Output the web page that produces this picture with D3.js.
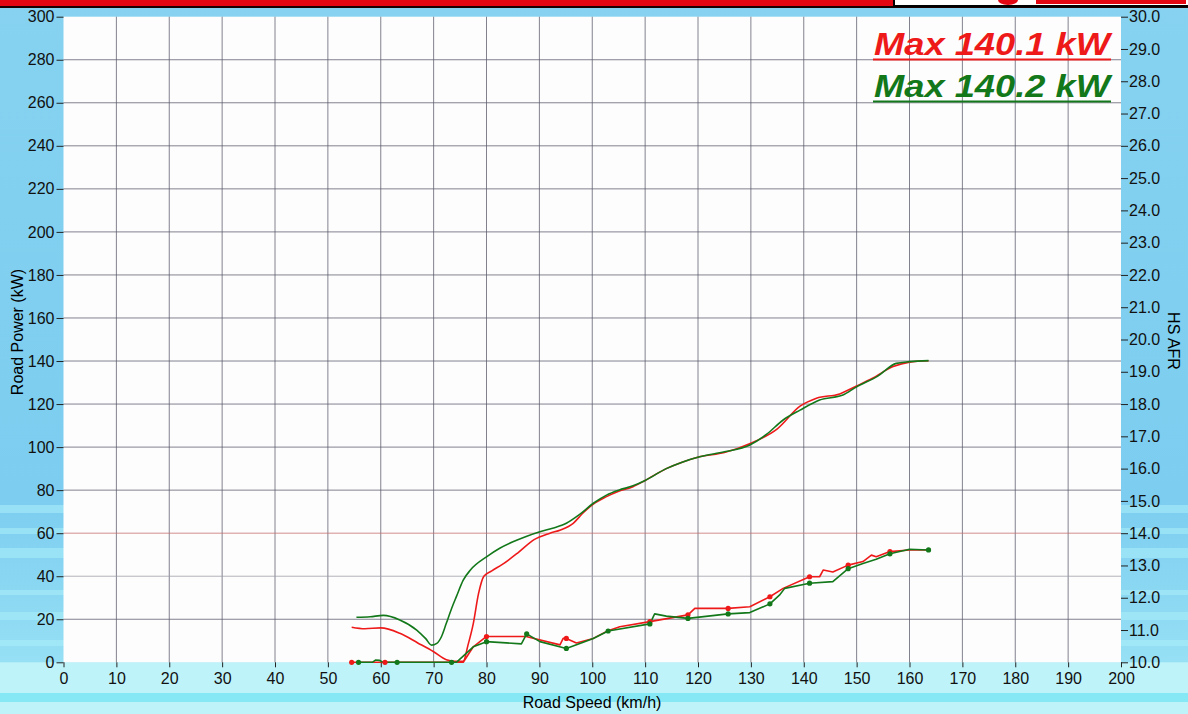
<!DOCTYPE html>
<html>
<head>
<meta charset="utf-8">
<script src="https://cdn.jsdelivr.net/npm/d3@7"></script>
<style>
  body { margin: 0; background: #82d0f0; }
  svg { display: block; font-family: "Liberation Sans", Arial, sans-serif; }
  .tick text { font-size: 16px; fill: #111; }
  .tick line { stroke: #222; }
</style>
</head>
<body>
<svg width="1188" height="714"></svg>
<script>
// road power (kW) vs road speed (km/h)
var redPower = [[54.5,16.3],[57,15.6],[60,16.0],[63.6,13.5],[67,9],[70,4.9],[72.4,1.2],[74,0.5],[75.6,0.5],
  [76.5,8],[77.5,18],[78.5,32],[79.5,40],[81,42.5],[83,45.5],[86,51],[89,57],[92,60],[94,61.5],[96.4,64.6],
  [98.3,69.5],[100.2,73.5],[102.7,77],[105,79.5],[107.7,81.6],[110,84.5],[114,90],[117,93],[120.3,95.5],
  [125,97.5],[130,101.8],[135,108.5],[139.3,119],[142.4,122.7],[146.8,124.7],[150,128.4],[153,132],
  [156.9,137.4],[160,139.5],[163.6,140.1]];
var greenPower = [[55.4,20.9],[58,21.2],[60.5,21.8],[63.6,19.7],[66.8,15],[68.5,11],[69.6,8],[70.6,8.8],
  [71.5,12],[72.4,18.1],[73.4,25],[74.3,30.5],[75.6,38.2],[77,43],[80,49],[82.5,53],[85,56],[87.5,58.5],
  [90.1,60.7],[92.5,62.3],[95.1,64.6],[97.5,68.5],[100.2,73.9],[102.7,77.7],[105,80],[107.7,82],[110,84.5],
  [114,90],[117,93],[120.3,95.5],[125,97.8],[129.8,101],[133,106],[136.1,112.6],[139.3,117.2],[143,121.9],
  [147.4,124.2],[150,128],[154,133],[157.5,138.9],[160,139.7],[163.6,140.2]];

// HS AFR vs road speed
var redAfr = [[54.5,10],[60.8,10],[75.6,10],[77.5,10.48],[80,10.8],[87.5,10.8],[93.9,10.54],[94.5,10.74],
  [95.1,10.74],[97,10.6],[100.2,10.74],[103,10.98],[105.2,11.1],[110.9,11.26],[118.1,11.47],[119.4,11.67],
  [125.7,11.67],[129.8,11.72],[133.6,12.03],[136.1,12.29],[141.1,12.65],[143,12.65],[143.7,12.86],
  [145.5,12.8],[148.4,13.01],[151.2,13.12],[152.8,13.32],[153.7,13.27],[156.3,13.43],[160,13.48],[163.6,13.48]];
var greenAfr = [[55.4,10],[58.4,10],[59.0,10.07],[59.8,10.06],[60.4,10],[73.4,10],[74.3,10],[77.5,10.48],
  [80,10.64],[86.6,10.57],[87.6,10.88],[90.1,10.64],[95.1,10.43],[100.2,10.74],[103,10.97],[110.9,11.19],
  [111.8,11.5],[114,11.43],[118.1,11.36],[125.7,11.5],[129.8,11.54],[133.6,11.81],[135.4,12.08],[136.4,12.29],
  [141.1,12.45],[145.5,12.5],[148.4,12.9],[151.2,13.06],[153.7,13.19],[156.3,13.36],[160,13.5],[163.6,13.48]];

// sample markers on the AFR traces
var redDots = [[54.5,10],[60.8,10],[80,10.8],[95.1,10.74],[110.9,11.26],[118.1,11.47],[125.7,11.67],
  [133.6,12.03],[141.1,12.65],[148.4,13.01],[156.3,13.43]];
var greenDots = [[55.8,10],[63.1,10],[73.4,10],[80,10.64],[87.6,10.88],[95.1,10.43],[103,10.97],
  [110.9,11.19],[118.1,11.36],[125.7,11.5],[133.6,11.81],[141.1,12.45],[148.4,12.9],[156.3,13.36],[163.6,13.48]];

var speedTicks = d3.range(0, 201, 10);
var powerTicks = d3.range(0, 301, 20);
var afrTicks = d3.range(10, 30.01, 1);
var legendLabels = ["Max 140.1 kW", "Max 140.2 kW"];

var RED = "#ee1a1a", GREEN = "#13781a";

var svg = d3.select("svg"),
    w = 1188, h = 714,
    plot = {left: 63.5, right: 1121, top: 16.7, bottom: 662.3};

var x = d3.scaleLinear().domain([0, 200]).range([plot.left, plot.right]);
var yP = d3.scaleLinear().domain([0, 300]).range([plot.bottom, plot.top]);
var yA = d3.scaleLinear().domain([10, 30]).range([plot.bottom, plot.top]);

// background bands (scanned printout look)
var defs = svg.append("defs");
var grad = defs.append("linearGradient").attr("id", "side").attr("x1", 0).attr("y1", 0).attr("x2", 0).attr("y2", 1);
grad.append("stop").attr("offset", "0").attr("stop-color", "#86d2f0");
grad.append("stop").attr("offset", "0.7").attr("stop-color", "#7ccdf0");
grad.append("stop").attr("offset", "1").attr("stop-color", "#9fe6f6");
svg.append("rect").attr("width", w).attr("height", h).attr("fill", "url(#side)");

// stripes on the lower left / right margins
var stripes = [[505, 8], [528, 6], [548, 10], [590, 5], [612, 8], [640, 6]];
stripes.forEach(function(s) {
  svg.append("rect").attr("x", 0).attr("y", s[0]).attr("width", w).attr("height", s[1])
    .attr("fill", "#a8ecf8").attr("opacity", 0.6);
});

svg.append("rect").attr("x", 0).attr("y", plot.bottom).attr("width", w).attr("height", h - plot.bottom)
  .attr("fill", "#bff3fa");
svg.append("rect").attr("x", 0).attr("y", 693).attr("width", w).attr("height", 9).attr("fill", "#86e7f5");

// top red bar with logo box
svg.append("rect").attr("x", 0).attr("y", 0).attr("width", w).attr("height", 6).attr("fill", "#e30613");
svg.append("rect").attr("x", 0).attr("y", 6).attr("width", w).attr("height", 2).attr("fill", "#1a0000");
svg.append("rect").attr("x", 894).attr("y", -3).attr("width", 300).attr("height", 9)
  .attr("fill", "#fff").attr("stroke", "#000").attr("stroke-width", 2);
svg.append("ellipse").attr("cx", 1008).attr("cy", 0).attr("rx", 10).attr("ry", 5).attr("fill", "#e30613");
svg.append("rect").attr("x", 1036).attr("y", -2).attr("width", 150).attr("height", 6).attr("fill", "#e30613");

// plot area
svg.append("rect").attr("x", plot.left).attr("y", plot.top)
  .attr("width", plot.right - plot.left).attr("height", plot.bottom - plot.top)
  .attr("fill", "#fdfdfe");

// grid
svg.append("g").selectAll("line").data(speedTicks.slice(1, -1)).enter().append("line")
  .attr("x1", function(d) { return x(d); }).attr("x2", function(d) { return x(d); })
  .attr("y1", plot.top).attr("y2", plot.bottom)
  .attr("stroke", "#5a5a6a").attr("stroke-width", 1).attr("opacity", 0.75);
svg.append("g").selectAll("line").data(powerTicks.slice(1, -1)).enter().append("line")
  .attr("x1", plot.left).attr("x2", plot.right)
  .attr("y1", function(d) { return yP(d); }).attr("y2", function(d) { return yP(d); })
  .attr("stroke", function(d) { return d == 60 ? "#c86a6a" : (d == 40 ? "#9a9aa6" : "#5a5a6a"); })
  .attr("stroke-width", 1).attr("opacity", 0.75);

// axes
var gL = svg.append("g").attr("transform", "translate(" + plot.left + ",0)")
  .call(d3.axisLeft(yP).tickValues(powerTicks).tickSize(7).tickPadding(2).tickFormat(d3.format("d")));
var gR = svg.append("g").attr("transform", "translate(" + plot.right + ",0)")
  .call(d3.axisRight(yA).tickValues(afrTicks).tickSize(7).tickPadding(1).tickFormat(d3.format(".1f")));
var gB = svg.append("g").attr("transform", "translate(0," + plot.bottom + ")")
  .call(d3.axisBottom(x).tickValues(speedTicks).tickSize(5).tickPadding(5).tickFormat(d3.format("d")));
[gL, gR, gB].forEach(function(g) {
  g.select(".domain").remove();
  g.selectAll("text").style("font-size", "16px");
});

// axis titles
svg.append("text")
  .attr("transform", "translate(23,332) rotate(-90)")
  .attr("text-anchor", "middle").style("font-size", "16px")
  .text("Road Power (kW)");
svg.append("text")
  .attr("transform", "translate(1168,341) rotate(90)")
  .attr("text-anchor", "middle").style("font-size", "16px")
  .text("HS AFR");
svg.append("text")
  .attr("x", 592).attr("y", 708)
  .attr("text-anchor", "middle").style("font-size", "16px")
  .text("Road Speed (km/h)");

// curves
var linePower = d3.line()
  .x(function(d) { return x(d[0]); })
  .y(function(d) { return yP(d[1]); })
  .curve(d3.curveMonotoneX);
var lineAfr = d3.line()
  .x(function(d) { return x(d[0]); })
  .y(function(d) { return yA(d[1]); });

function draw_trace(data, line, color) {
  svg.append("path").datum(data)
    .attr("d", line)
    .attr("fill", "none")
    .attr("stroke", color)
    .attr("stroke-width", 1.6)
    .attr("stroke-linejoin", "round");
}
draw_trace(redPower, linePower, RED);
draw_trace(greenPower, linePower, GREEN);
draw_trace(redAfr, lineAfr, RED);
draw_trace(greenAfr, lineAfr, GREEN);

function draw_dots(data, color) {
  svg.append("g").selectAll("circle").data(data).enter().append("circle")
    .attr("cx", function(d) { return x(d[0]); })
    .attr("cy", function(d) { return yA(d[1]); })
    .attr("r", 2.6)
    .attr("fill", color);
}
draw_dots(redDots, RED);
draw_dots(greenDots, GREEN);

// legend
var legendColors = [RED, GREEN];
legendLabels.forEach(function(label, i) {
  var base = 55 + i * 42;
  svg.append("text")
    .attr("x", 874).attr("y", base)
    .attr("textLength", 236).attr("lengthAdjust", "spacingAndGlyphs")
    .style("font-size", "32px").style("font-weight", "bold").style("font-style", "italic")
    .attr("fill", legendColors[i])
    .text(label);
  svg.append("line")
    .attr("x1", 873).attr("x2", 1111)
    .attr("y1", base + 4.5).attr("y2", base + 4.5)
    .attr("stroke", legendColors[i]).attr("stroke-width", 2);
});
</script>
</body>
</html>
